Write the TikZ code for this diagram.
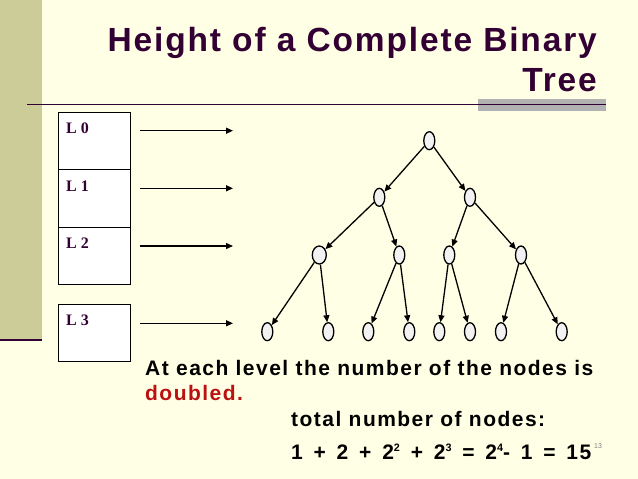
\documentclass[tikz,border=0pt]{standalone}
\usepackage{fontspec}
\setmainfont{Liberation Sans}
\newfontfamily\titlefont{Liberation Sans}[LetterSpace=5.5]
\newfontfamily\bodyfont{Liberation Sans}[LetterSpace=7]
\newfontfamily\lvlfont{Liberation Serif}
\usetikzlibrary{shapes.geometric,arrows.meta}
\definecolor{bg}{HTML}{FFFFE5}
\definecolor{bar}{HTML}{CCCC99}
\definecolor{plum}{HTML}{330033}
\definecolor{redtxt}{HTML}{BB1111}
\definecolor{graybar}{HTML}{B2B2B2}
\definecolor{nodefill}{HTML}{F2F2F2}
\newcommand{\supx}[1]{\raisebox{7.5pt}{\fontsize{10.8}{12}\selectfont #1}}
\newcommand{\fsp}{\hspace{10.8pt}}
\tikzset{
  tn/.style={ellipse,draw,line width=1.3pt,fill=nodefill,inner sep=0pt,minimum width=11pt,minimum height=18pt},
  tnw/.style={tn,minimum width=14pt},
  edge/.style={line width=1.3pt,-{Triangle[length=7pt,width=6pt]}},
  lvlbox/.style={draw,line width=1pt,fill=white,minimum width=72pt,inner sep=0pt},
  lvltxt/.style={font=\lvlfont\bfseries\fontsize{16}{18}\selectfont,text=plum,anchor=base west,inner sep=0pt},
  body/.style={font=\bodyfont\bfseries\fontsize{21}{24}\selectfont,anchor=base west,inner sep=0pt}
}
\begin{document}
\begin{tikzpicture}[x=1pt,y=-1pt]
\useasboundingbox (0,0) rectangle (638,479);
\fill[bg] (0,0) rectangle (638,479);
% left bar
\fill[bar] (0,0) rectangle (42,339);
\draw[plum,line width=2pt] (0,340) -- (42,340);
% title
\node[anchor=base east,inner sep=0pt,text=plum,font=\titlefont\bfseries\fontsize{33.5}{38}\selectfont] (t1) at (597,52) {Height of a Complete Binary};
\node[anchor=base east,inner sep=0pt,text=plum,font=\titlefont\bfseries\fontsize{33.5}{38}\selectfont] (t2) at (597,91) {Tree};
% rule
\fill[graybar] (478,99) rectangle (606,111);
\draw[plum,line width=1.2pt] (27,104.3) -- (606,104.3);
% level boxes
\node[lvlbox,minimum height=57.5pt,anchor=north west] (b0) at (58,111.5) {};
\node[lvlbox,minimum height=57.5pt,anchor=north west] (b1) at (58,169) {};
\node[lvlbox,minimum height=57.5pt,anchor=north west] (b2) at (58,226.5) {};
\node[lvlbox,minimum height=57pt,anchor=north west] (b3) at (58,303.5) {};
\node[lvltxt] (l0) at (66,133.5) {L 0};
\node[lvltxt] (l1) at (66,191) {L 1};
\node[lvltxt] (l2) at (66,248.5) {L 2};
\node[lvltxt] (l3) at (66,325.5) {L 3};
% level arrows
\coordinate (a0s) at (140,130.7); \coordinate (a0e) at (233,130.7);
\coordinate (a1s) at (140,188.3); \coordinate (a1e) at (233,188.3);
\coordinate (a2s) at (140,246); \coordinate (a2e) at (233,246);
\coordinate (a3s) at (140,323.3); \coordinate (a3e) at (233,323.3);
\foreach \i in {0,1,2,3} \draw[edge] (a\i s) -- (a\i e);
% tree
\node[tn] (r) at (429.3,140.7) {};
\node[tn] (n1) at (379.3,197.3) {};
\node[tn] (n2) at (470,197.3) {};
\node[tnw] (n11) at (319.3,255) {};
\node[tn] (n12) at (399.3,255) {};
\node[tn] (n21) at (449.3,255) {};
\node[tn] (n22) at (521,255) {};
\node[tn] (m1) at (267.3,331.7) {};
\node[tn] (m2) at (328.3,331.7) {};
\node[tn] (m3) at (368.3,331.7) {};
\node[tn] (m4) at (409.3,331.7) {};
\node[tn] (m5) at (439.3,331.7) {};
\node[tn] (m6) at (470,331.7) {};
\node[tn] (m7) at (501,331.7) {};
\node[tn] (m8) at (561.7,331.7) {};
\draw[edge] (r) -- (n1);
\draw[edge] (r) -- (n2);
\draw[edge] (n1) -- (n11);
\draw[edge] (n1) -- (n12);
\draw[edge] (n2) -- (n21);
\draw[edge] (n2) -- (n22);
\draw[edge] (n11) -- (m1);
\draw[edge] (n11) -- (m2);
\draw[edge] (n12) -- (m3);
\draw[edge] (n12) -- (m4);
\draw[edge] (n21) -- (m5);
\draw[edge] (n21) -- (m6);
\draw[edge] (n22) -- (m7);
\draw[edge] (n22) -- (m8);
% text
\node[body] (s1) at (145,375) {At each level the number of the nodes is};
\node[body,text=redtxt] (s2) at (145,400) {doubled.};
\node[body] (s3) at (291,426) {total number of nodes:};
\node[body] (s4) at (291,459) {1\fsp+\fsp2\fsp+\fsp2\supx{2}\fsp+\fsp2\supx{3}\fsp=\fsp2\supx{4}-\fsp1\fsp=\fsp15};
\node[anchor=base west,inner sep=0pt,text=gray,font=\fontsize{7}{8}\selectfont] (pg) at (594,448) {13};
\end{tikzpicture}
\end{document}
